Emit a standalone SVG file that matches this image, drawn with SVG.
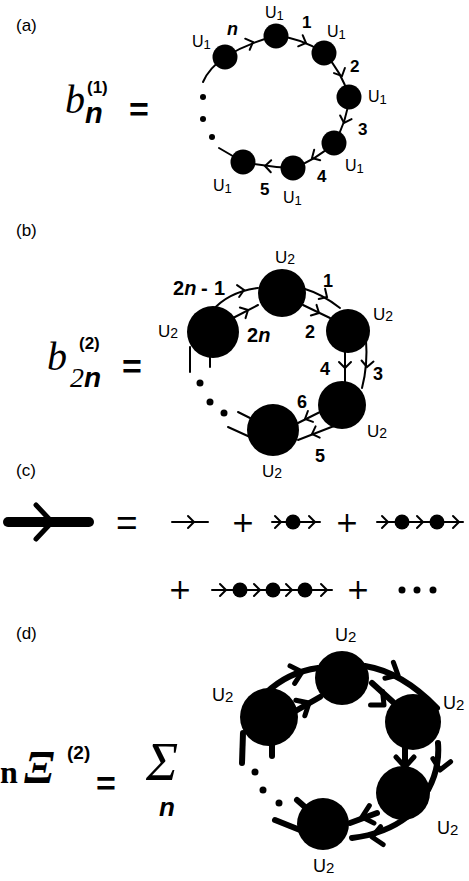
<svg xmlns="http://www.w3.org/2000/svg" xmlns:xlink="http://www.w3.org/1999/xlink" width="469" height="881" viewBox="0 0 469 881">
<style>
.ln{stroke:#000;stroke-width:2;fill:none;stroke-linecap:round}
.tk{stroke:#000;stroke-width:6;fill:none;stroke-linecap:round}
.nd{fill:#000}
.lab{font-family:"Liberation Sans",Arial,sans-serif;font-size:17px;fill:#000}
.u{font-family:"Liberation Sans",Arial,sans-serif;fill:#000}
.num{font-family:"Liberation Sans",Arial,sans-serif;font-weight:bold;fill:#000}
.bi{font-family:"Liberation Sans",Arial,sans-serif;font-weight:bold;font-style:italic;fill:#000}
.si{font-family:"Liberation Serif","Times New Roman",serif;font-style:italic;fill:#000}
.eq{font-family:"Liberation Sans",Arial,sans-serif;font-weight:bold;font-size:34px;fill:#000}
.pl{font-family:"DejaVu Sans",sans-serif;font-size:28px;fill:#000;text-anchor:middle}
</style>
<defs>
<path id="ch" d="M-6,-6 L0,0 L-6,6" fill="none" stroke="#000" stroke-width="2" stroke-linecap="round"/>
<path id="chk" d="M-10,-9 L0,0 L-10,9" fill="none" stroke="#000" stroke-width="5" stroke-linecap="round" stroke-linejoin="round"/>
</defs>

<!-- panel labels -->
<text class="lab" x="16" y="31">(a)</text>
<text class="lab" x="16" y="236">(b)</text>
<text class="lab" x="16" y="476">(c)</text>
<text class="lab" x="16" y="639">(d)</text>

<!-- (a) formula -->
<g id="formula-a">
<text class="si" x="65" y="113" font-size="40">b</text>
<text class="num" x="87" y="93" font-size="17">(1)</text>
<text class="bi" x="85" y="123" font-size="29">n</text>
<text class="eq" x="129" y="121">=</text>
</g>

<!-- (a) connectors -->
<g id="connectors-a">
<path class="ln" d="M225,57 Q250,42 276,36"/>
<path class="ln" d="M276,36 Q302,38 324,53"/>
<path class="ln" d="M324,53 Q342,72 349,97"/>
<path class="ln" d="M349,97 Q347,122 334,143"/>
<path class="ln" d="M334,143 Q316,160 293,168"/>
<path class="ln" d="M293,168 Q268,167 243,162"/>
<path class="ln" d="M225,57 Q209,68 203,82"/>
<path class="ln" d="M243,162 L219,148"/>
<use xlink:href="#ch" transform="translate(253,42) rotate(-22)"/>
<use xlink:href="#ch" transform="translate(306,43) rotate(22)"/>
<use xlink:href="#ch" transform="translate(342,76) rotate(65)"/>
<use xlink:href="#ch" transform="translate(344,123) rotate(108)"/>
<use xlink:href="#ch" transform="translate(312,158) rotate(150)"/>
<use xlink:href="#ch" transform="translate(265,166) rotate(182)"/>
<circle class="nd" cx="203" cy="97" r="3"/>
<circle class="nd" cx="203" cy="119" r="3"/>
<circle class="nd" cx="212" cy="137" r="3"/>
</g>

<!-- (a) nodes -->
<g id="a-n1"><circle class="nd" cx="225" cy="57" r="12.5"/><text class="u" font-size="16" x="192" y="47">U<tspan font-size="13" dy="2">1</tspan></text></g>
<g id="a-n2"><circle class="nd" cx="276" cy="36" r="12.5"/><text class="u" font-size="16" x="265" y="18">U<tspan font-size="13" dy="2">1</tspan></text></g>
<g id="a-n3"><circle class="nd" cx="324" cy="53" r="12.5"/><text class="u" font-size="16" x="327" y="37">U<tspan font-size="13" dy="2">1</tspan></text></g>
<g id="a-n4"><circle class="nd" cx="349" cy="97" r="12.5"/><text class="u" font-size="16" x="368" y="102">U<tspan font-size="13" dy="2">1</tspan></text></g>
<g id="a-n5"><circle class="nd" cx="334" cy="143" r="12.5"/><text class="u" font-size="16" x="345" y="171">U<tspan font-size="13" dy="2">1</tspan></text></g>
<g id="a-n6"><circle class="nd" cx="293" cy="168" r="12.5"/><text class="u" font-size="16" x="283" y="203">U<tspan font-size="13" dy="2">1</tspan></text></g>
<g id="a-n7"><circle class="nd" cx="243" cy="162" r="12.5"/><text class="u" font-size="16" x="213" y="191">U<tspan font-size="13" dy="2">1</tspan></text></g>
<g id="a-labels">
<text class="bi" x="227" y="35" font-size="18">n</text>
<text class="num" font-size="17" x="302" y="28">1</text>
<text class="num" font-size="17" x="350" y="72">2</text>
<text class="num" font-size="17" x="358" y="135">3</text>
<text class="num" font-size="17" x="317" y="182">4</text>
<text class="num" font-size="17" x="260" y="195">5</text>
</g>

<!-- (b) formula -->
<g id="formula-b">
<text class="si" x="47" y="370" font-size="40">b</text>
<text class="num" font-size="17" x="79" y="349">(2)</text>
<text class="si" x="70" y="387" font-size="28">2</text>
<text class="bi" x="84" y="387" font-size="28">n</text>
<text class="eq" x="122" y="378">=</text>
</g>

<!-- (b) connectors -->
<g id="connectors-b">
<path class="ln" d="M212,311 Q228,292 258,288"/>
<path class="ln" d="M233,318 L258,305"/>
<path class="ln" d="M305,289 Q322,294 340,308"/>
<path class="ln" d="M303,305 L330,318"/>
<path class="ln" d="M345,350 L345,383"/>
<path class="ln" d="M366,340 Q368,365 362,388"/>
<path class="ln" d="M322,411 L298,423"/>
<path class="ln" d="M334,426 L298,440"/>
<path class="ln" d="M190,347 L190,372"/>
<path class="ln" d="M210,353 L210,367"/>
<path class="ln" d="M238,412 L250,418"/>
<path class="ln" d="M228,427 L250,437"/>
<use xlink:href="#ch" transform="translate(244,290) rotate(-10)"/>
<use xlink:href="#ch" transform="translate(248,310) rotate(-28)"/>
<use xlink:href="#ch" transform="translate(327,297) rotate(32)"/>
<use xlink:href="#ch" transform="translate(319,313) rotate(28)"/>
<use xlink:href="#ch" transform="translate(345,368) rotate(90)"/>
<use xlink:href="#ch" transform="translate(367,367) rotate(95)"/>
<use xlink:href="#ch" transform="translate(305,419) rotate(155)"/>
<use xlink:href="#ch" transform="translate(312,434) rotate(160)"/>
<circle class="nd" cx="200" cy="383" r="3.5"/>
<circle class="nd" cx="210" cy="402" r="3.5"/>
<circle class="nd" cx="224" cy="413" r="3.5"/>
</g>

<!-- (b) nodes -->
<g id="b-n1"><circle class="nd" cx="282" cy="293" r="24"/><text class="u" x="275" y="263" font-size="17">U<tspan font-size="14" dy="1">2</tspan></text></g>
<g id="b-n2"><circle class="nd" cx="348" cy="331" r="22"/><text class="u" x="373" y="320" font-size="17">U<tspan font-size="14" dy="1">2</tspan></text></g>
<g id="b-n3"><circle class="nd" cx="342" cy="405" r="24"/><text class="u" x="367" y="437" font-size="17">U<tspan font-size="14" dy="1">2</tspan></text></g>
<g id="b-n4"><circle class="nd" cx="273" cy="430" r="26"/><text class="u" x="262" y="477" font-size="17">U<tspan font-size="14" dy="1">2</tspan></text></g>
<g id="b-n5"><circle class="nd" cx="213" cy="332" r="26"/><text class="u" x="158" y="337" font-size="17">U<tspan font-size="14" dy="1">2</tspan></text></g>
<g id="b-labels">
<text class="num" x="173" y="295" font-size="20">2<tspan class="bi">n</tspan><tspan x="201">-</tspan><tspan x="214">1</tspan></text>
<text class="num" x="247" y="342" font-size="20">2<tspan class="bi">n</tspan></text>
<text class="num" x="323" y="287" font-size="18">1</text>
<text class="num" x="305" y="338" font-size="18">2</text>
<text class="num" x="373" y="380" font-size="18">3</text>
<text class="num" x="320" y="375" font-size="18">4</text>
<text class="num" x="315" y="462" font-size="18">5</text>
<text class="num" x="297" y="408" font-size="18">6</text>
</g>

<!-- (c) -->
<g id="c-big-arrow">
<line x1="8" y1="522" x2="89" y2="522" stroke="#000" stroke-width="10" stroke-linecap="round"/>
<polyline points="36,505 52,522 36,539" fill="none" stroke="#000" stroke-width="5" stroke-linecap="round"/>
</g>
<text x="116" y="535" font-family="Liberation Sans,Arial,sans-serif" font-size="37" fill="#000">=</text>
<g id="c-term1">
<line class="ln" x1="172" y1="522" x2="208" y2="522"/>
<use xlink:href="#ch" transform="translate(194,522)"/>
</g>
<text class="pl" x="243" y="532">+</text>
<g id="c-term2">
<line class="ln" x1="272" y1="522" x2="320" y2="522"/>
<use xlink:href="#ch" transform="translate(281,522)"/>
<circle class="nd" cx="293" cy="522" r="7.5"/>
<use xlink:href="#ch" transform="translate(315,522)"/>
</g>
<text class="pl" x="347" y="532">+</text>
<g id="c-term3">
<line class="ln" x1="377" y1="522" x2="463" y2="522"/>
<use xlink:href="#ch" transform="translate(388,522)"/>
<circle class="nd" cx="402" cy="522" r="7.5"/>
<use xlink:href="#ch" transform="translate(423,522)"/>
<circle class="nd" cx="437" cy="522" r="7.5"/>
<use xlink:href="#ch" transform="translate(459,522)"/>
</g>
<text class="pl" x="180" y="599">+</text>
<g id="c-term4">
<line class="ln" x1="212" y1="590" x2="332" y2="590"/>
<use xlink:href="#ch" transform="translate(226,590)"/>
<circle class="nd" cx="240" cy="590" r="7.5"/>
<use xlink:href="#ch" transform="translate(260,590)"/>
<circle class="nd" cx="273" cy="590" r="7.5"/>
<use xlink:href="#ch" transform="translate(292,590)"/>
<circle class="nd" cx="305" cy="590" r="7.5"/>
<use xlink:href="#ch" transform="translate(327,590)"/>
</g>
<text class="pl" x="358" y="599">+</text>
<g id="c-dots">
<circle class="nd" cx="402" cy="590" r="3.5"/>
<circle class="nd" cx="417" cy="590" r="3.5"/>
<circle class="nd" cx="433" cy="590" r="3.5"/>
</g>

<!-- (d) formula -->
<g id="formula-d">
<text x="0" y="783" font-family="Liberation Serif,Times New Roman,serif" font-weight="bold" font-size="32" fill="#000">n</text>
<text class="si" x="24" y="783" font-size="46" font-weight="bold">Ξ</text>
<text class="num" x="67" y="759" font-size="19">(2)</text>
<text class="eq" x="96" y="795">=</text>
<text class="si" x="146" y="780" font-size="54">Σ</text>
<text class="bi" x="159" y="816" font-size="26">n</text>
</g>

<!-- (d) connectors -->
<g id="connectors-d">
<path class="tk" d="M266,693 Q288,672 318,668"/>
<path class="tk" d="M292,713 L320,697"/>
<path class="tk" d="M365,666 Q402,672 437,708"/>
<path class="tk" d="M372,683 L393,702"/>
<path class="tk" d="M405,747 L405,777"/>
<path class="tk" d="M438,743 Q440,768 428,790"/>
<path class="tk" d="M377,813 L350,823"/>
<path class="tk" d="M407,817 Q385,834 352,838"/>
<path class="tk" d="M243,733 L242,763"/>
<path class="tk" d="M272,745 L272,756"/>
<path class="tk" d="M297,800 L305,807"/>
<path class="tk" d="M275,820 L300,830"/>
<use xlink:href="#chk" transform="translate(302,672) rotate(-15)"/>
<use xlink:href="#chk" transform="translate(309,703) rotate(-30)"/>
<use xlink:href="#chk" transform="translate(398,675) rotate(28)"/>
<use xlink:href="#chk" transform="translate(384,705) rotate(42)"/>
<use xlink:href="#chk" transform="translate(405,767) rotate(90)"/>
<use xlink:href="#chk" transform="translate(440,770) rotate(100)"/>
<use xlink:href="#chk" transform="translate(362,817) rotate(165)"/>
<use xlink:href="#chk" transform="translate(372,837) rotate(172)"/>
<circle class="nd" cx="255" cy="772" r="3.5"/>
<circle class="nd" cx="263" cy="790" r="3.5"/>
<circle class="nd" cx="279" cy="803" r="3.5"/>
</g>

<!-- (d) nodes -->
<g id="d-n1"><circle class="nd" cx="342" cy="678" r="27"/><text class="u" font-size="18" x="335" y="641">U<tspan font-size="15" dy="1">2</tspan></text></g>
<g id="d-n2"><circle class="nd" cx="413" cy="722" r="28"/><text class="u" font-size="18" x="443" y="709">U<tspan font-size="15" dy="1">2</tspan></text></g>
<g id="d-n3"><circle class="nd" cx="403" cy="793" r="27"/><text class="u" font-size="18" x="437" y="834">U<tspan font-size="15" dy="1">2</tspan></text></g>
<g id="d-n4"><circle class="nd" cx="323" cy="824" r="26"/><text class="u" font-size="18" x="313" y="872">U<tspan font-size="15" dy="1">2</tspan></text></g>
<g id="d-n5"><circle class="nd" cx="269" cy="717" r="29"/><text class="u" font-size="18" x="212" y="701">U<tspan font-size="15" dy="1">2</tspan></text></g>
</svg>
